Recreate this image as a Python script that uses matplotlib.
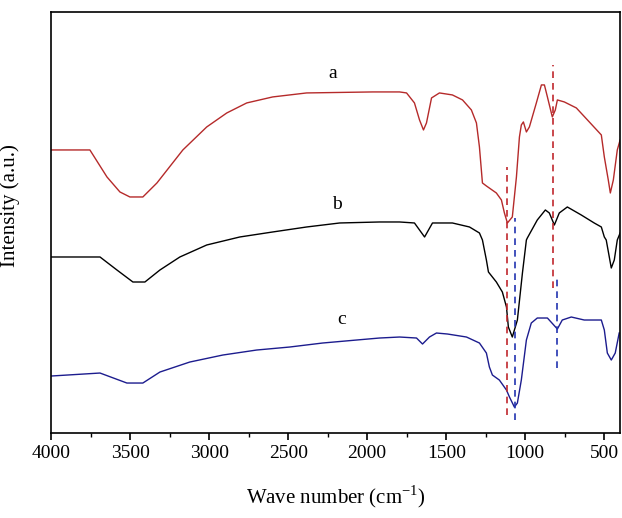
# FTIR spectra of samples a, b, c
import matplotlib
matplotlib.use("Agg")
import matplotlib.pyplot as plt
from matplotlib.ticker import MultipleLocator, NullLocator

plt.rcParams['font.family'] = ['Liberation Serif', 'DejaVu Serif']
plt.rcParams['mathtext.fontset'] = 'custom'
plt.rcParams['mathtext.rm'] = 'Liberation Serif'

# wavenumber (cm-1) and intensity (a.u.)
wave_a = [4000, 3754, 3646, 3564, 3501, 3419, 3330, 3166, 3015, 2888, 2762, 2598, 2383,
          1966, 1795, 1751, 1701, 1669, 1644, 1625, 1593, 1543, 1461, 1397, 1341, 1309,
          1290, 1271, 1246, 1183, 1151, 1132, 1113, 1082, 1056, 1037, 1025, 1012, 993,
          974, 930, 898, 879, 860, 829, 810, 797, 753, 677, 595, 519, 500, 475, 462,
          443, 418, 400]
int_a = [283, 283, 256, 241, 236, 236, 250, 283, 306, 320, 330, 336, 340,
         341, 341, 340, 330, 313, 303, 310, 335, 340, 338, 333, 323, 310,
         286, 250, 247, 240, 233, 220, 210, 216, 256, 296, 308, 311, 301,
         306, 330, 348, 348, 336, 316, 323, 333, 331, 325, 311, 298, 276, 253, 240,
         253, 283, 293]

wave_b = [4000, 3690, 3583, 3482, 3406, 3311, 3185, 3015, 2806, 2598, 2383, 2174, 1922,
          1795, 1701, 1637, 1587, 1461, 1353, 1290, 1271, 1246, 1233, 1183, 1145, 1119,
          1107, 1082, 1050, 1018, 993, 987, 924, 873, 848, 816, 785, 734, 646, 564,
          519, 500, 488, 456, 437, 418, 400]
int_b = [176, 176, 163, 151, 151, 163, 176, 188, 196, 201, 206, 210, 211,
         211, 210, 196, 210, 210, 206, 200, 193, 173, 161, 151, 141, 126,
         106, 96, 113, 160, 193, 195, 213, 223, 220, 208, 220, 226, 218, 210,
         206, 196, 193, 165, 173, 193, 200]

wave_c = [4000, 3690, 3520, 3419, 3311, 3122, 2913, 2699, 2490, 2282, 2067, 1922, 1795,
          1688, 1650, 1606, 1562, 1492, 1372, 1290, 1246, 1227, 1208, 1164, 1119, 1100,
          1069, 1050, 1025, 993, 962, 924, 860, 797, 766, 709, 627, 519, 500, 481,
          456, 431, 406]
int_c = [57, 60, 50, 50, 61, 71, 78, 83, 86, 90, 93, 95, 96,
         95, 89, 96, 100, 99, 96, 90, 80, 66, 58, 53, 43, 36,
         26, 30, 53, 93, 110, 115, 115, 104, 113, 116, 113, 113, 103, 80,
         73, 80, 100]

labels = ['a', 'b', 'c']
label_pos = [(2219, 351), (2193, 220), (2162, 105)]

# marker lines: (wavenumber, y from, y to)
red_marks = [(1113, 18, 266), (823, 145, 368)]
blue_marks = [(1063, 13, 215), (797, 65, 155)]

fig = plt.figure(figsize=(6.22, 5.18), dpi=100)
ax = fig.add_axes([0.082, 0.164, 0.915, 0.813])

ax.plot(wave_a, int_a, color='#b52a2a', lw=1.0)
ax.plot(wave_b, int_b, color='black', lw=1.0)
ax.plot(wave_c, int_c, color='#1c1c8e', lw=1.0)

for w, y0, y1 in red_marks:
    ax.plot([w, w], [y0, y1], color='#c0282d', lw=1.2, ls=(0, (4, 3)))
for w, y0, y1 in blue_marks:
    ax.plot([w, w], [y0, y1], color='#2233b0', lw=1.2, ls=(0, (4, 3)))

for lab, (x, y) in zip(labels, label_pos):
    ax.text(x, y, lab, fontsize=14, ha='center', va='bottom')

ax.set_xlim(4000, 400)
ax.set_ylim(0, 421)
ax.xaxis.set_major_locator(MultipleLocator(500))
ax.xaxis.set_minor_locator(MultipleLocator(250))
ax.yaxis.set_major_locator(NullLocator())
ax.tick_params(axis='x', which='major', direction='out', length=5, width=1.2,
               labelsize=14, top=False)
ax.tick_params(axis='x', which='minor', direction='out', length=3, width=1.0, top=False)
for s in ax.spines.values():
    s.set_linewidth(1.2)

ax.set_xlabel(r'Wave number (cm$^{\mathrm{-1}}$)', fontsize=15)
ax.set_ylabel('Intensity (a.u.)', fontsize=15)
ax.xaxis.set_label_coords(0.5, -0.12)
ax.yaxis.set_label_coords(-0.054, 0.54)

fig.savefig('out.png', dpi=100)
